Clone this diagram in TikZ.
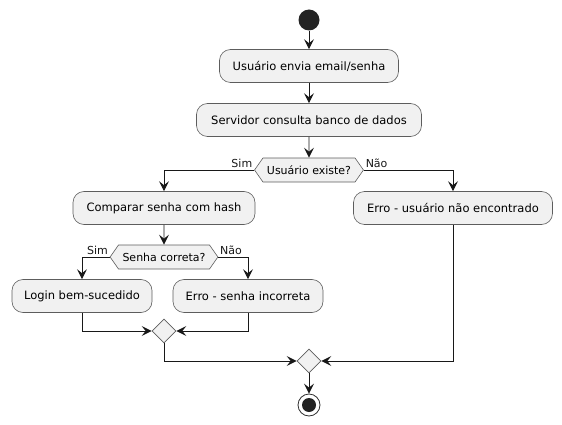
\documentclass[tikz,border=0pt]{standalone}
\usepackage{fontspec}
\setmainfont{DejaVu Sans}
\usepackage{tikz}
\usetikzlibrary{arrows.meta, positioning, shapes.geometric, shapes.symbols}

\definecolor{boxfill}{HTML}{F1F1F1}
\definecolor{ink}{HTML}{181818}

\begin{document}
\begin{tikzpicture}[x=1pt, y=-1pt,
    action/.style={draw=ink!70, fill=boxfill, rounded corners=11pt, line width=0.6pt,
        minimum height=33pt, inner xsep=10pt, font=\fontsize{11.5}{13}\selectfont},
    question/.style={draw=ink!70, fill=boxfill, signal, signal to=east and west,
        signal pointer angle=110, minimum height=24pt, inner xsep=4pt, inner ysep=0pt,
        line width=0.6pt, font=\fontsize{11}{12}\selectfont},
    merge/.style={draw=ink!70, fill=boxfill, diamond, minimum size=24pt, inner sep=0pt, line width=0.6pt},
    flow/.style={-{Stealth[length=10pt, width=10pt, inset=4pt]}, ink, line width=0.9pt},
    branch/.style={font=\fontsize{11}{12}\selectfont, inner sep=1.5pt}]
\useasboundingbox (0,0) rectangle (562,425);

\node[circle, fill=ink!95, minimum size=21pt, inner sep=0pt] (start) at (309,20) {};
\node[action, minimum width=179pt] (send) at (309,66) {Usuário envia email/senha};
\node[action, minimum width=225pt] (query) at (309,120) {Servidor consulta banco de dados};
\node[question, minimum width=108pt] (userq) at (309,170) {Usuário existe?};

\node[action, minimum width=182pt] (compare) at (164,208) {Comparar senha com hash};
\node[action, minimum width=199pt] (notfound) at (453,208) {Erro - usuário não encontrado};
\node[question, minimum width=107pt] (pwq) at (164,257) {Senha correta?};
\node[action, minimum width=140pt] (login) at (82,296) {Login bem-sucedido};
\node[action, minimum width=150pt] (wrongpw) at (248,296) {Erro - senha incorreta};

\node[merge] (merge1) at (164,331) {};
\node[merge] (merge2) at (309,361) {};
\node[circle, draw=ink!90, fill=white, line width=0.8pt, minimum size=22pt, inner sep=0pt,
    path picture={\fill[ink!95] (path picture bounding box.center) circle (7pt);}] (stop) at (309,405) {};

% main line
\draw[flow] (start) -- (send);
\draw[flow] (send) -- (query);
\draw[flow] (query) -- (userq);

% first decision
\draw[flow] (userq.west) node[branch, above left] {Sim} -| (compare.north);
\draw[flow] (userq.east) node[branch, above right] {Não} -| (notfound.north);
\draw[flow] (compare) -- (pwq);

% second decision
\draw[flow] (pwq.west) node[branch, above left] {Sim} -| (login.north);
\draw[flow] (pwq.east) node[branch, above right] {Não} -| (wrongpw.north);
\draw[flow] (login.south) |- (merge1.west);
\draw[flow] (wrongpw.south) |- (merge1.east);

% join
\draw[flow] (merge1.south) |- (merge2.west);
\draw[flow] (notfound.south) |- (merge2.east);
\draw[flow] (merge2) -- (stop);
\end{tikzpicture}
\end{document}
